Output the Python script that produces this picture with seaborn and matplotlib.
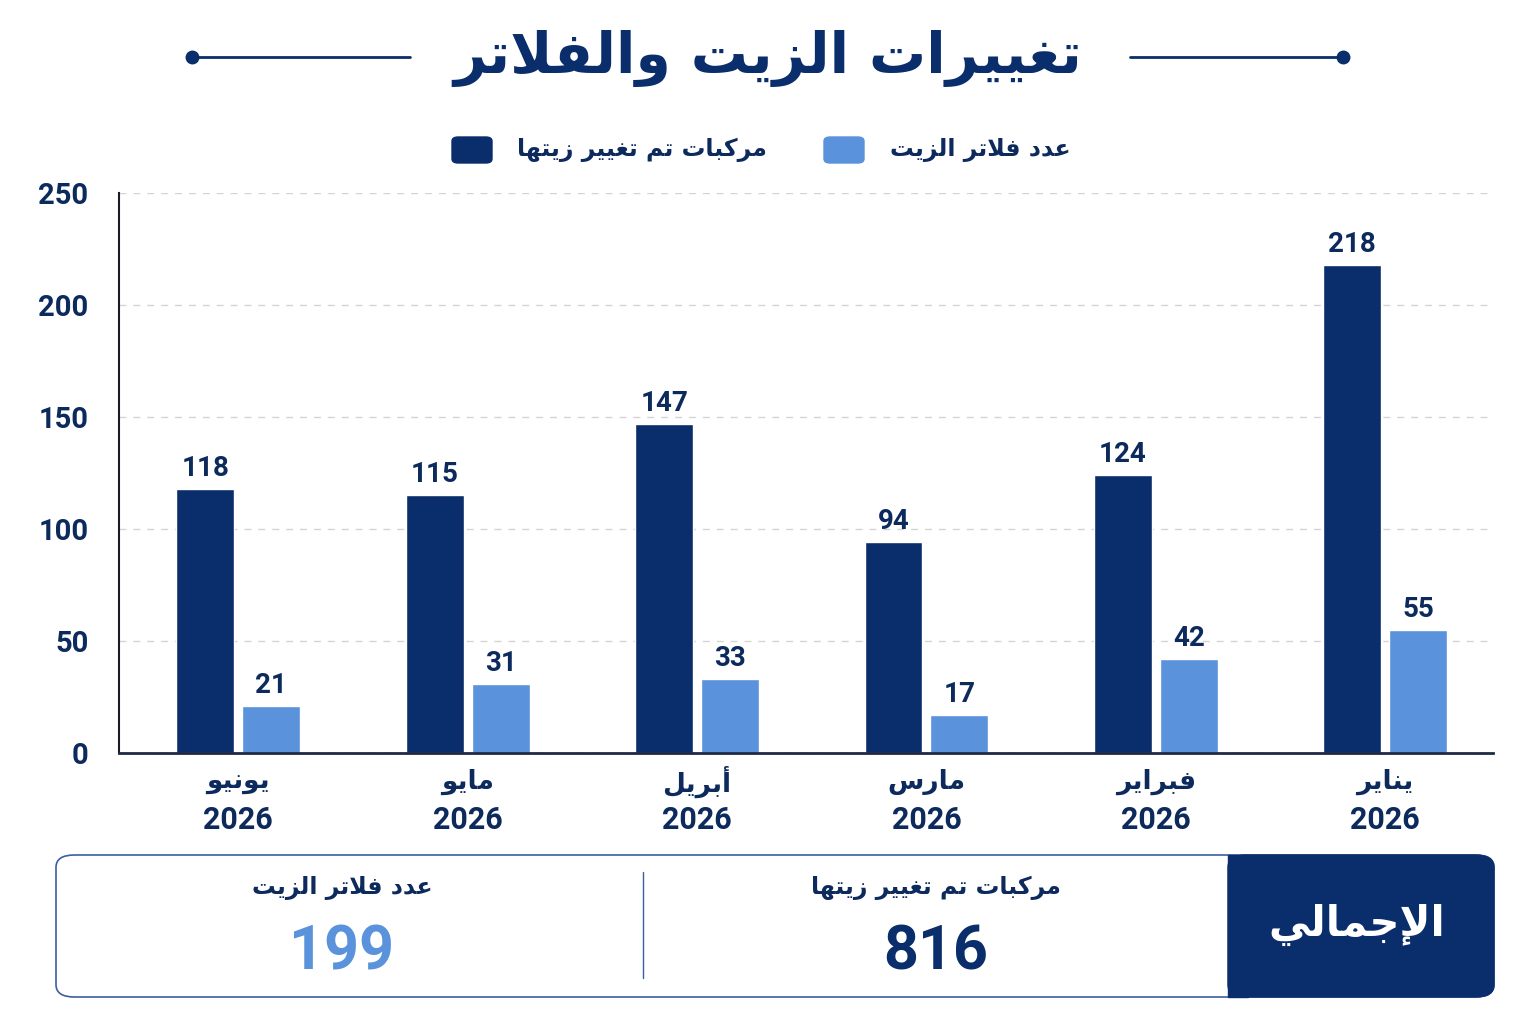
import numpy as np
import pandas as pd
import seaborn as sns
import matplotlib.pyplot as plt
from matplotlib.patches import FancyBboxPatch, Rectangle

# Data (left to right as drawn in the reference)
months = ['يونيو', 'مايو', 'أبريل', 'مارس', 'فبراير', 'يناير']
years = ['2026', '2026', '2026', '2026', '2026', '2026']
vehicles = [118, 115, 147, 94, 124, 218]
filters = [21, 31, 33, 17, 42, 55]

title = 'تغييرات الزيت والفلاتر'
series_names = ['مركبات تم تغيير زيتها', 'عدد فلاتر الزيت']
total_label = 'الإجمالي'

NAVY = '#0a2d6b'
LIGHT = '#5a92dc'
TEXT = '#0d2a5c'

# --- minimal Arabic shaping (matplotlib has no complex text layout) ---
FORMS = {
    'ا': ('\uFE8D', '\uFE8E', None, None),
    'أ': ('\uFE83', '\uFE84', None, None),
    'إ': ('\uFE87', '\uFE88', None, None),
    'ب': ('\uFE8F', '\uFE90', '\uFE91', '\uFE92'),
    'ت': ('\uFE95', '\uFE96', '\uFE97', '\uFE98'),
    'ج': ('\uFE9D', '\uFE9E', '\uFE9F', '\uFEA0'),
    'د': ('\uFEA9', '\uFEAA', None, None),
    'ر': ('\uFEAD', '\uFEAE', None, None),
    'ز': ('\uFEAF', '\uFEB0', None, None),
    'س': ('\uFEB1', '\uFEB2', '\uFEB3', '\uFEB4'),
    'ع': ('\uFEC9', '\uFECA', '\uFECB', '\uFECC'),
    'غ': ('\uFECD', '\uFECE', '\uFECF', '\uFED0'),
    'ف': ('\uFED1', '\uFED2', '\uFED3', '\uFED4'),
    'ك': ('\uFED9', '\uFEDA', '\uFEDB', '\uFEDC'),
    'ل': ('\uFEDD', '\uFEDE', '\uFEDF', '\uFEE0'),
    'م': ('\uFEE1', '\uFEE2', '\uFEE3', '\uFEE4'),
    'ن': ('\uFEE5', '\uFEE6', '\uFEE7', '\uFEE8'),
    'ه': ('\uFEE9', '\uFEEA', '\uFEEB', '\uFEEC'),
    'و': ('\uFEED', '\uFEEE', None, None),
    'ي': ('\uFEF1', '\uFEF2', '\uFEF3', '\uFEF4'),
}
LAM_ALEF = {'ا': ('\uFEFB', '\uFEFC'), 'أ': ('\uFEF7', '\uFEF8'), 'إ': ('\uFEF9', '\uFEFA')}


def joins_left(c):
    return c in FORMS and FORMS[c][2] is not None


def shape(text):
    out = []
    i = 0
    n = len(text)
    while i < n:
        c = text[i]
        if c not in FORMS:
            out.append(c)
            i += 1
            continue
        prev = text[i - 1] if i > 0 else ''
        from_prev = joins_left(prev)
        if c == 'ل' and i + 1 < n and text[i + 1] in LAM_ALEF:
            iso, fin = LAM_ALEF[text[i + 1]]
            out.append(fin if from_prev else iso)
            i += 2
            continue
        nxt = text[i + 1] if i + 1 < n else ''
        to_next = joins_left(c) and nxt in FORMS
        iso, fin, ini, med = FORMS[c]
        if from_prev and to_next:
            out.append(med)
        elif from_prev:
            out.append(fin)
        elif to_next:
            out.append(ini)
        else:
            out.append(iso)
        i += 1
    return ''.join(out)[::-1]


AR = ['DejaVu Sans']
NUM = ['Roboto', 'DejaVu Sans']

sns.set_theme(style='white')
plt.rcParams['font.family'] = ['DejaVu Sans']

df = pd.DataFrame({
    'month': months * 2,
    'series': [series_names[0]] * len(months) + [series_names[1]] * len(months),
    'value': vehicles + filters,
})

fig = plt.figure(figsize=(15.36, 10.24), dpi=100)
ax = fig.add_axes([0.0775, 0.2646, 0.8945, 0.547])

sns.barplot(data=df, x='month', y='value', hue='series', order=months,
            hue_order=series_names, palette=[NAVY, LIGHT], width=0.574,
            gap=0.12, ax=ax, legend=False, saturation=1)

for cont in ax.containers:
    ax.bar_label(cont, labels=[str(int(v)) for v in cont.datavalues], padding=5,
                 fontsize=20, fontweight='bold', color=TEXT, family=NUM)

ax.set_xlim(-0.52, 5.47)
ax.set_ylim(0, 250)
ax.set_yticks([0, 50, 100, 150, 200, 250])
ax.yaxis.grid(True, linestyle=(0, (5, 5)), color='#d4d4d4', linewidth=1)
ax.set_axisbelow(True)
for s in ['top', 'right']:
    ax.spines[s].set_visible(False)
ax.spines['left'].set_color('#1a1a2a')
ax.spines['left'].set_linewidth(1.5)
ax.spines['bottom'].set_color('#1e2a44')
ax.spines['bottom'].set_linewidth(2)
ax.tick_params(axis='y', length=10, width=1.5, color='#1a1a2a', pad=12,
               labelsize=21, labelcolor=TEXT)
for lab in ax.get_yticklabels():
    lab.set_fontweight('bold')
    lab.set_family(NUM)
ax.tick_params(axis='x', length=0, pad=10)
ax.set_xticks(range(len(months)))
ax.set_xticklabels([])
ax.set_xlabel('')
ax.set_ylabel('')

# month labels (two lines: month / year)
for i, (m, y) in enumerate(zip(months, years)):
    ax.annotate(shape(m), (i, 0), xytext=(0, -21), textcoords='offset points',
                ha='center', va='center', fontsize=19, fontweight='bold',
                color=TEXT, family=AR, annotation_clip=False)
    ax.annotate(y, (i, 0), xytext=(0, -48), textcoords='offset points',
                ha='center', va='center', fontsize=22, fontweight='bold',
                color=TEXT, family=NUM, annotation_clip=False)

# title with decorative lines
fig.text(0.5, 0.943, shape(title), ha='center', va='center', fontsize=41,
         fontweight='bold', color=NAVY, family=AR)
for x0, x1, xd in [(192, 410, 192), (1130, 1343, 1343)]:
    fig.add_artist(plt.Line2D([x0 / 1536, x1 / 1536], [1 - 57 / 1024] * 2,
                              color=NAVY, linewidth=2))
    fig.add_artist(plt.Line2D([xd / 1536], [1 - 57 / 1024], marker='o',
                              markersize=9, color=NAVY))

# legend
ly = 1 - 150 / 1024
for (sx, tx), name, col in zip([(452, 517), (824, 890)], series_names, [NAVY, LIGHT]):
    fig.add_artist(FancyBboxPatch((sx / 1536, ly - 13 / 1024), 40 / 1536, 26 / 1024,
                                  boxstyle='round,pad=0,rounding_size=0.004',
                                  transform=fig.transFigure, color=col))
    fig.text(tx / 1536, ly, shape(name), ha='left', va='center', fontsize=17,
             fontweight='bold', color=TEXT, family=AR)

# summary box
bx0, bx1, by0, by1 = 56 / 1536, 1494 / 1536, 1 - 997 / 1024, 1 - 855 / 1024
fig.add_artist(FancyBboxPatch((bx0, by0), bx1 - bx0, by1 - by0,
                              boxstyle='round,pad=0,rounding_size=0.012',
                              transform=fig.transFigure, facecolor='white',
                              edgecolor='#3b5fa0', linewidth=1.2))
fig.add_artist(FancyBboxPatch((1228 / 1536, by0), (1494 - 1228) / 1536, by1 - by0,
                              boxstyle='round,pad=0,rounding_size=0.012',
                              transform=fig.transFigure, facecolor=NAVY,
                              edgecolor=NAVY))
fig.add_artist(Rectangle((1228 / 1536, by0), 20 / 1536, by1 - by0,
                         transform=fig.transFigure, facecolor=NAVY, edgecolor=NAVY))
fig.add_artist(plt.Line2D([643 / 1536] * 2, [1 - 978 / 1024, 1 - 872 / 1024],
                          color='#3b5fa0', linewidth=1))
fig.text(1357 / 1536, 1 - 925 / 1024, shape(total_label), ha='center', va='center',
         fontsize=30, fontweight='bold', color='white', family=AR)

totals = [sum(vehicles), sum(filters)]
for cx, name, tot, col in zip([936, 342], series_names, totals, [NAVY, LIGHT]):
    fig.text(cx / 1536, 1 - 888 / 1024, shape(name), ha='center', va='center',
             fontsize=17, fontweight='bold', color=TEXT, family=AR)
    fig.text(cx / 1536, 1 - 952 / 1024, str(tot), ha='center', va='center',
             fontsize=44, fontweight='bold', color=col, family=NUM)

fig.savefig('out.png', dpi=100, facecolor='white')
